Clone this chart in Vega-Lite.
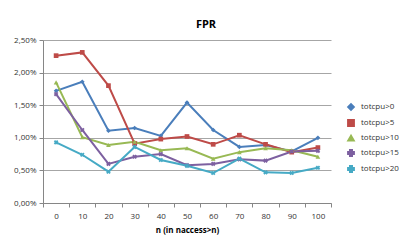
{
  "$schema": "https://vega.github.io/schema/vega-lite/v6.json",
  "width": 288,
  "height": 163,
  "autosize": {"type": "none"},
  "padding": {"left": 43, "top": 40, "right": 84, "bottom": 49},
  "background": "white",
  "title": {"text": "FPR", "fontSize": 11, "font": "Open Sans", "fontWeight": "bold", "color": "#000000", "anchor": "middle", "dx": 19, "offset": 6},
  "config": {
    "view": {"stroke": null},
    "font": "Open Sans",
    "legend": {"orient": "none", "legendX": 304, "legendY": 63}
  },
  "data": {"values": [
    {"n": 0, "s": "totcpu>0", "v": 1.72}, {"n": 10, "s": "totcpu>0", "v": 1.86}, {"n": 20, "s": "totcpu>0", "v": 1.11}, {"n": 30, "s": "totcpu>0", "v": 1.15}, {"n": 40, "s": "totcpu>0", "v": 1.03}, {"n": 50, "s": "totcpu>0", "v": 1.54}, {"n": 60, "s": "totcpu>0", "v": 1.12}, {"n": 70, "s": "totcpu>0", "v": 0.86}, {"n": 80, "s": "totcpu>0", "v": 0.89}, {"n": 90, "s": "totcpu>0", "v": 0.79}, {"n": 100, "s": "totcpu>0", "v": 1.0},
    {"n": 0, "s": "totcpu>5", "v": 2.26}, {"n": 10, "s": "totcpu>5", "v": 2.31}, {"n": 20, "s": "totcpu>5", "v": 1.8}, {"n": 30, "s": "totcpu>5", "v": 0.91}, {"n": 40, "s": "totcpu>5", "v": 0.98}, {"n": 50, "s": "totcpu>5", "v": 1.02}, {"n": 60, "s": "totcpu>5", "v": 0.9}, {"n": 70, "s": "totcpu>5", "v": 1.04}, {"n": 80, "s": "totcpu>5", "v": 0.9}, {"n": 90, "s": "totcpu>5", "v": 0.78}, {"n": 100, "s": "totcpu>5", "v": 0.85},
    {"n": 0, "s": "totcpu>10", "v": 1.85}, {"n": 10, "s": "totcpu>10", "v": 1.01}, {"n": 20, "s": "totcpu>10", "v": 0.89}, {"n": 30, "s": "totcpu>10", "v": 0.94}, {"n": 40, "s": "totcpu>10", "v": 0.81}, {"n": 50, "s": "totcpu>10", "v": 0.84}, {"n": 60, "s": "totcpu>10", "v": 0.68}, {"n": 70, "s": "totcpu>10", "v": 0.78}, {"n": 80, "s": "totcpu>10", "v": 0.84}, {"n": 90, "s": "totcpu>10", "v": 0.81}, {"n": 100, "s": "totcpu>10", "v": 0.71},
    {"n": 0, "s": "totcpu>15", "v": 1.67}, {"n": 10, "s": "totcpu>15", "v": 1.12}, {"n": 20, "s": "totcpu>15", "v": 0.6}, {"n": 30, "s": "totcpu>15", "v": 0.71}, {"n": 40, "s": "totcpu>15", "v": 0.75}, {"n": 50, "s": "totcpu>15", "v": 0.58}, {"n": 60, "s": "totcpu>15", "v": 0.6}, {"n": 70, "s": "totcpu>15", "v": 0.67}, {"n": 80, "s": "totcpu>15", "v": 0.65}, {"n": 90, "s": "totcpu>15", "v": 0.79}, {"n": 100, "s": "totcpu>15", "v": 0.8},
    {"n": 0, "s": "totcpu>20", "v": 0.93}, {"n": 10, "s": "totcpu>20", "v": 0.74}, {"n": 20, "s": "totcpu>20", "v": 0.48}, {"n": 30, "s": "totcpu>20", "v": 0.86}, {"n": 40, "s": "totcpu>20", "v": 0.66}, {"n": 50, "s": "totcpu>20", "v": 0.57}, {"n": 60, "s": "totcpu>20", "v": 0.46}, {"n": 70, "s": "totcpu>20", "v": 0.68}, {"n": 80, "s": "totcpu>20", "v": 0.47}, {"n": 90, "s": "totcpu>20", "v": 0.46}, {"n": 100, "s": "totcpu>20", "v": 0.54}
  ]},
  "encoding": {
    "x": {"field": "n", "type": "ordinal", "scale": {"type": "band", "paddingInner": 0, "paddingOuter": 0},
      "axis": {"title": "n (in naccess>n)", "labelAngle": 0, "tickBand": "extent", "domainColor": "#868686", "tickColor": "#868686", "tickSize": 4, "labelFontSize": 8, "labelColor": "#333333", "labelPadding": 5, "titleFontSize": 8, "titleFontWeight": "bold", "titleColor": "#000000", "titlePadding": 6}},
    "y": {"field": "v", "type": "quantitative", "scale": {"domain": [0, 2.5]},
      "axis": {"title": null, "values": [0, 0.5, 1, 1.5, 2, 2.5], "labelExpr": "replace(format(datum.value, '.2f'), '.', ',') + '%'", "domainColor": "#868686", "tickColor": "#868686", "tickSize": 4, "gridColor": "#a6a6a6", "gridWidth": 1, "labelFontSize": 8, "labelColor": "#333333", "labelPadding": 3}},
    "color": {"field": "s", "type": "nominal", "sort": ["totcpu>0", "totcpu>5", "totcpu>10", "totcpu>15", "totcpu>20"],
      "scale": {"domain": ["totcpu>0", "totcpu>5", "totcpu>10", "totcpu>15", "totcpu>20"], "range": ["#4a7ebb", "#be4b48", "#98b954", "#7d60a0", "#46aac5"]},
      "legend": {"title": null, "symbolSize": 40, "labelFontSize": 8, "labelColor": "#333333", "rowPadding": 2, "labelOffset": 6}}
  },
  "layer": [
    {"mark": {"type": "line", "strokeWidth": 2}},
    {"mark": {"type": "point", "filled": true, "size": 22, "opacity": 1},
      "encoding": {
        "shape": {"field": "s", "type": "nominal", "scale": {"domain": ["totcpu>0", "totcpu>5", "totcpu>10", "totcpu>15", "totcpu>20"], "range": ["diamond", "square", "triangle-up", "cross", "cross"]}, "legend": null},
        "angle": {"condition": {"test": "datum.s === 'totcpu>15' || datum.s === 'totcpu>20'", "value": 45}, "value": 0}
      }}
  ]
}
